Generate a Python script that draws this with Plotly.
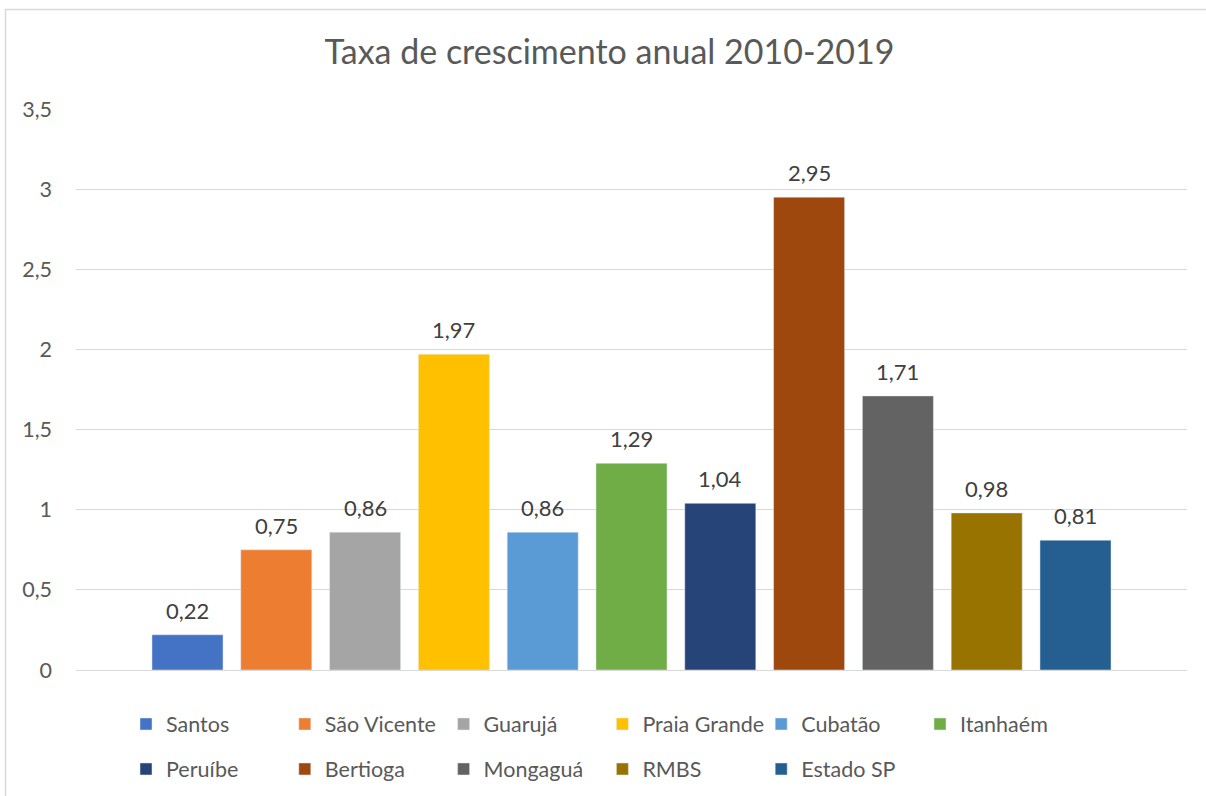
import plotly.graph_objects as go

names = ["Santos", "São Vicente", "Guarujá", "Praia Grande", "Cubatão", "Itanhaém",
         "Peruíbe", "Bertioga", "Mongaguá", "RMBS", "Estado SP"]
values = [0.22, 0.75, 0.86, 1.97, 0.86, 1.29, 1.04, 2.95, 1.71, 0.98, 0.81]
colors = ["#4472C4", "#ED7D31", "#A5A5A5", "#FFC000", "#5B9BD5", "#70AD47",
          "#264478", "#9E480E", "#636363", "#997300", "#255E91"]
title_text = "Taxa de crescimento anual 2010-2019"
y_ticks = [0, 0.5, 1, 1.5, 2, 2.5, 3, 3.5]

FONT = "Lato"
W, H = 1206, 796
ML, MR, MT, MB = 76, 19, 109, 126
PW, PH = W - ML - MR, H - MT - MB

# legend layout (pixel positions of legend columns/rows, Excel-style)
leg_col0_px, leg_col_step = 143, 158.8
leg_rows_px = [724, 769]

fig = go.Figure()
layout_legends = {}
annotations = []
for i, (n, v, c) in enumerate(zip(names, values, colors)):
    lid = "legend" if i == 0 else f"legend{i+1}"
    row = 0 if i < 6 else 1
    col = i if i < 6 else i - 6
    fig.add_trace(go.Bar(
        x=[n], y=[v], name=n, marker_color=c, legend=lid,
    ))
    annotations.append(dict(
        x=n, y=v, xref="x", yref="y", text=f"{v:.2f}".replace(".", ","),
        showarrow=False, yanchor="bottom", yshift=9,
        font=dict(family=FONT, size=22, color="#404040"),
    ))
    col_px = leg_col0_px + col * leg_col_step
    lx = (col_px - 17 - ML) / PW
    ly = (H - MB - leg_rows_px[row]) / PH
    layout_legends[lid] = dict(
        x=lx, y=ly, xanchor="left", yanchor="middle",
        bgcolor="rgba(0,0,0,0)", itemwidth=30,
        font=dict(family=FONT, size=21.5, color="#595959"),
    )

step_px = 88.8
first_center_px = 187.5
x_lo = -(first_center_px - ML) / step_px
x_hi = x_lo + PW / step_px

fig.update_layout(
    width=W, height=H,
    margin=dict(l=ML, r=MR, t=MT, b=MB, autoexpand=False),
    paper_bgcolor="white", plot_bgcolor="white",
    separators=",.",
    barmode="overlay", bargap=0.2,
    title=dict(text=title_text, x=609.5 / W, xref="container", xanchor="center",
               y=1 - 52 / H, yref="container", yanchor="middle",
               font=dict(family=FONT, size=34, color="#595959")),
    xaxis=dict(type="category", range=[x_lo, x_hi], showticklabels=False,
               showgrid=False, zeroline=False, showline=False, ticks=""),
    yaxis=dict(range=[0, 3.5], tickvals=y_ticks, showgrid=True,
               gridcolor="#D9D9D9", gridwidth=1, zeroline=True,
               zerolinecolor="#D9D9D9", zerolinewidth=1, showline=False,
               ticks="", ticklabelstandoff=23,
               tickfont=dict(family=FONT, size=21.5, color="#595959")),
    showlegend=True,
    annotations=annotations,
    shapes=[dict(type="rect", xref="paper", yref="paper",
                 x0=(5.5 - ML) / PW, x1=(1212 - ML) / PW,
                 y0=(H - MB - 802) / PH, y1=(H - MB - 9.5) / PH,
                 line=dict(color="#D9D9D9", width=1.5), fillcolor="rgba(0,0,0,0)",
                 layer="below")],
    **layout_legends,
)

fig.write_html("out.html")
